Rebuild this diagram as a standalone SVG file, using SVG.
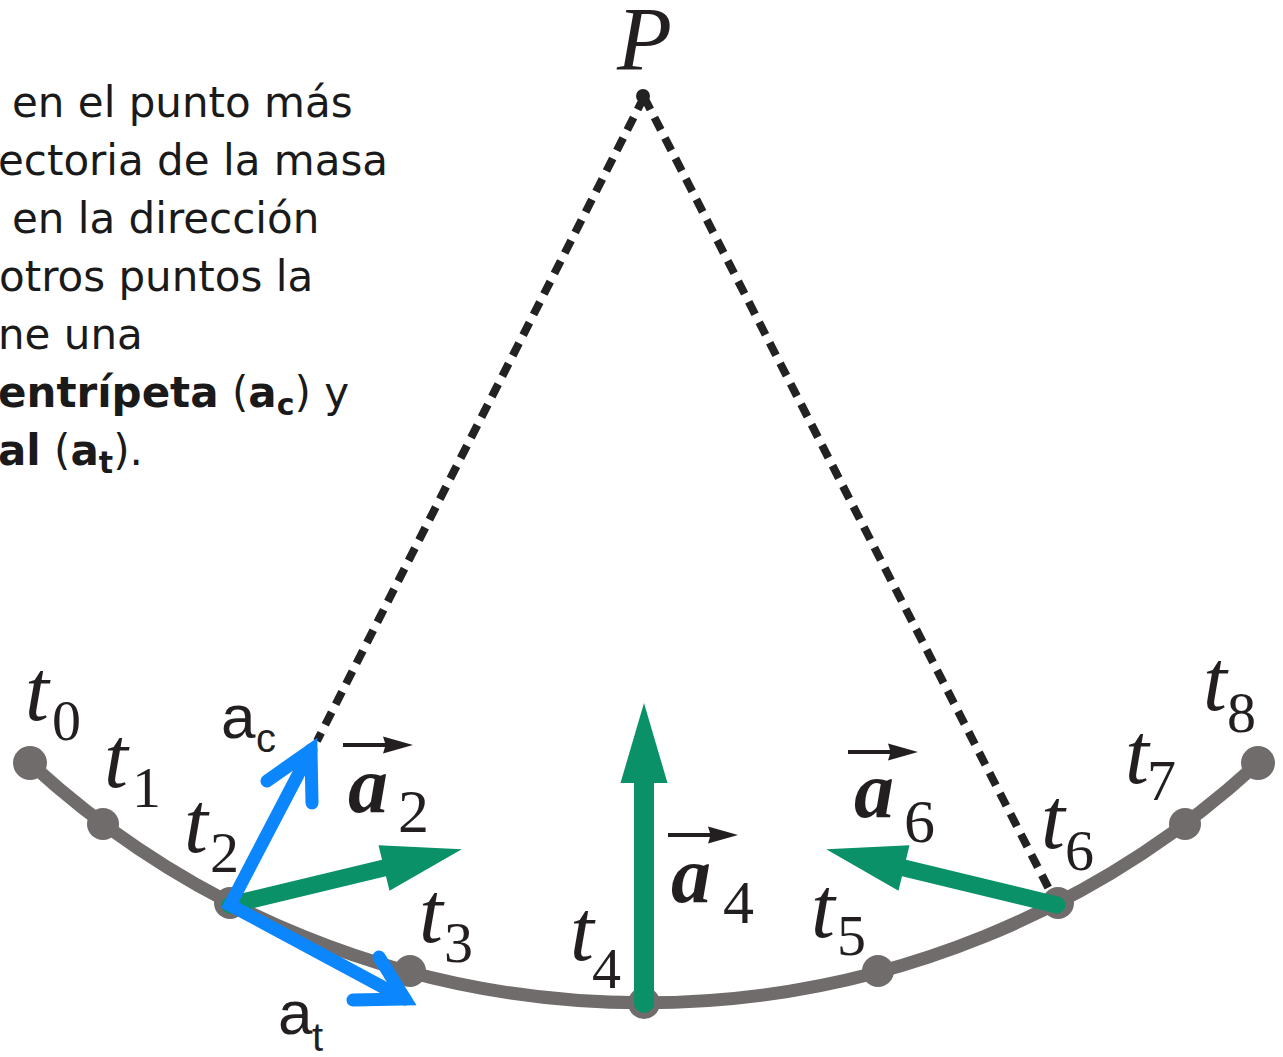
<svg xmlns="http://www.w3.org/2000/svg" width="1283" height="1057" viewBox="0 0 1283 1057">
<defs>
<style>
.para{font-family:"DejaVu Sans",Verdana,sans-serif;font-size:42px;fill:#1a1a1a}
.b{font-weight:bold}
.sub{font-size:30px;font-weight:bold}
.math{font-family:"Liberation Serif","Times New Roman",serif;font-style:italic;font-size:86px;fill:#231f20}
.msub{font-style:normal;font-size:58px}
.vec{font-family:"Liberation Serif","Times New Roman",serif;font-style:italic;font-weight:bold;font-size:80px;fill:#231f20}
.vsub{font-style:normal;font-weight:normal;font-size:62px}
.lab{font-family:"Liberation Sans",Arial,sans-serif;font-size:62px;fill:#231f20}
.lsub{font-size:40px}
.arc{fill:none;stroke:#716c6c;stroke-width:13}
.dot{fill:#716c6c}
.dash{fill:none;stroke:#222;stroke-width:8;stroke-dasharray:14 9}
.green{stroke:#0a9167;fill:none;stroke-linecap:round}
.blue{stroke:#0b86fd;stroke-width:13;fill:none;stroke-linecap:round;stroke-linejoin:miter;stroke-miterlimit:10}
</style>
<marker id="gh" markerUnits="userSpaceOnUse" orient="auto" refX="0" refY="0" markerWidth="90" markerHeight="60" viewBox="0 -30 90 60" overflow="visible">
<path d="M0,-23.5 L80,0 L0,23.5 z" fill="#0a9167"/>
</marker>
<path id="va" d="M0,-2 L42,-2 L40,-8.5 L70,0 L40,8.5 L42,2 L0,2 z" fill="#231f20"/>
</defs>

<g id="paragraph">
<text class="para" x="12" y="117">en el punto más</text>
<text class="para" x="-2" y="175">ectoria de la masa</text>
<text class="para" x="12" y="233">en la dirección</text>
<text class="para" x="-1" y="291">otros puntos la</text>
<text class="para" x="-2" y="349">ne una</text>
<text class="para" x="-2" y="407"><tspan class="b">entrípeta</tspan> (<tspan class="b">a</tspan><tspan class="sub" dy="8">c</tspan><tspan dy="-8">) y</tspan></text>
<text class="para" x="-2" y="465"><tspan class="b">al</tspan> (<tspan class="b">a</tspan><tspan class="sub" dy="8">t</tspan><tspan dy="-8">).</tspan></text>
</g>

<g id="connectors">
<path id="trajectory" class="arc" d="M30,763 A906,906 0 0 0 1258,763"/>
<line id="string-left" class="dash" x1="644" y1="97" x2="317" y2="741"/>
<line id="string-right" class="dash" x1="644" y1="97" x2="1052" y2="895"/>
</g>

<g id="pivot">
<circle cx="643" cy="96" r="7" fill="#222"/>
<text class="math" x="617" y="70" style="font-size:90px">P</text>
</g>

<g id="points">
<circle id="p0" class="dot" cx="30" cy="763" r="17"/>
<circle id="p1" class="dot" cx="103" cy="824" r="16"/>
<circle id="p2" class="dot" cx="230" cy="903" r="16"/>
<circle id="p3" class="dot" cx="410" cy="971" r="16"/>
<circle id="p4" class="dot" cx="644" cy="1003" r="16"/>
<circle id="p5" class="dot" cx="878" cy="971" r="16"/>
<circle id="p6" class="dot" cx="1058" cy="903" r="16"/>
<circle id="p7" class="dot" cx="1185" cy="824" r="16"/>
<circle id="p8" class="dot" cx="1258" cy="763" r="17"/>
</g>

<g id="time-labels">
<text class="math" x="25" y="720">t<tspan class="msub" x="52" y="740">0</tspan></text>
<text class="math" x="104" y="787">t<tspan class="msub" x="132" y="807">1</tspan></text>
<text class="math" x="184" y="852">t<tspan class="msub" x="210" y="872">2</tspan></text>
<text class="math" x="419" y="942">t<tspan class="msub" x="444" y="962">3</tspan></text>
<text class="math" x="570" y="960">t<tspan class="msub" x="592" y="988">4</tspan></text>
<text class="math" x="811" y="937">t<tspan class="msub" x="837" y="955">5</tspan></text>
<text class="math" x="1041" y="848">t<tspan class="msub" x="1065" y="870">6</tspan></text>
<text class="math" x="1125" y="783">t<tspan class="msub" x="1147" y="800">7</tspan></text>
<text class="math" x="1203" y="710">t<tspan class="msub" x="1227" y="732">8</tspan></text>
</g>

<g id="accel-a2">
<line class="green" x1="230" y1="905" x2="384" y2="868" stroke-width="17" marker-end="url(#gh)"/>
<use href="#va" x="343" y="745"/>
<text class="vec" x="348" y="812">a<tspan class="vsub" x="398" y="832">2</tspan></text>
</g>

<g id="accel-a4">
<line class="green" x1="644" y1="1003" x2="644" y2="783" stroke-width="20" marker-end="url(#gh)"/>
<use href="#va" x="668" y="835"/>
<text class="vec" x="671" y="902">a<tspan class="vsub" x="723" y="923">4</tspan></text>
</g>

<g id="accel-a6">
<line class="green" x1="1057" y1="905" x2="904" y2="868" stroke-width="17" marker-end="url(#gh)"/>
<use href="#va" x="848" y="752"/>
<text class="vec" x="854" y="817">a<tspan class="vsub" x="904" y="842">6</tspan></text>
</g>

<g id="components">
<path class="blue" d="M311,750 L230,905 L405,999"/>
<path class="blue" d="M267,781 L311,750 L312,803"/>
<path class="blue" d="M379,957 L405,999 L353,1000"/>
<text class="lab" x="221" y="738">a<tspan class="lsub" x="256" y="752">c</tspan></text>
<text class="lab" x="278" y="1034">a<tspan class="lsub" x="312" y="1051">t</tspan></text>
</g>
</svg>
